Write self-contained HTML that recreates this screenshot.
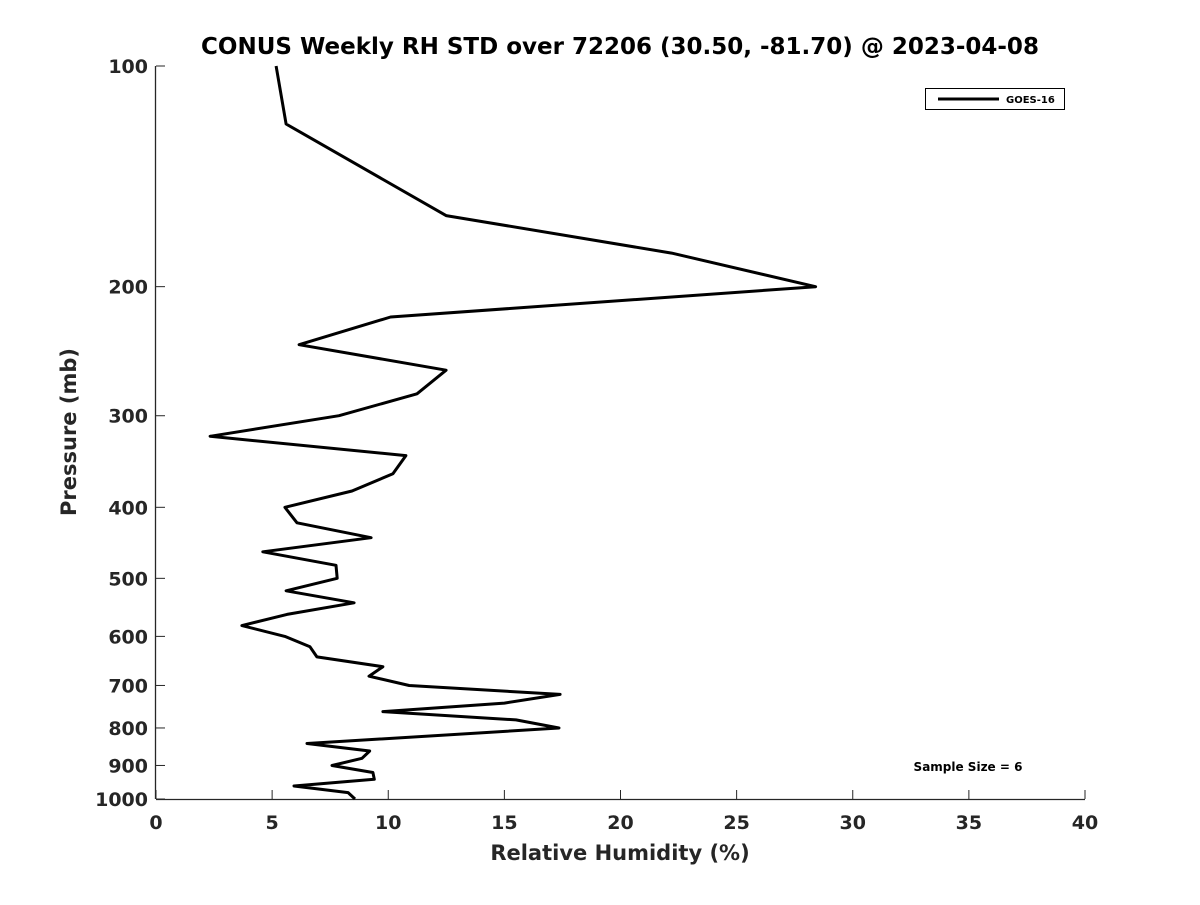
<!DOCTYPE html>
<html><head><meta charset="utf-8"><style>
body{margin:0;background:#fff}
svg text{font-family:"DejaVu Sans","Liberation Sans",sans-serif;font-weight:bold}
</style></head><body>
<svg id="chart" width="1200" height="900" xmlns="http://www.w3.org/2000/svg">
<rect width="1200" height="900" fill="#fff"/>
<text x="620" y="54" font-size="23" text-anchor="middle" fill="#000">CONUS Weekly RH STD over 72206 (30.50, -81.70) @ 2023-04-08</text>
<g id="axes"></g>
<path id="series" fill="none" stroke="#000" stroke-width="3" stroke-linejoin="round"/>
<g>
<rect x="925.5" y="88.5" width="139" height="21" fill="#fff" stroke="#000" stroke-width="1"/>
<line x1="938" y1="99" x2="999" y2="99" stroke="#000" stroke-width="3"/>
<text x="1006" y="103" font-size="10" fill="#000">GOES-16</text>
</g>
<text x="968" y="771" font-size="12" text-anchor="middle" fill="#000">Sample Size = 6</text>
<text x="620" y="860" font-size="21" text-anchor="middle" fill="#262626">Relative Humidity (%)</text>
<text x="0" y="0" font-size="21" text-anchor="middle" fill="#262626" transform="translate(76,432) rotate(-90)">Pressure (mb)</text>
</svg>
<script>
const rhValues=[5.17,5.6,12.49,22.2,28.4,10.1,6.16,12.49,11.24,7.88,2.33,10.76,10.2,8.44,5.55,6.07,9.26,4.6,7.75,7.8,5.6,8.53,5.64,3.7,5.55,6.63,6.93,9.77,9.17,10.9,17.4,15.0,9.77,15.5,17.35,6.5,9.2,8.87,7.58,9.34,9.4,5.94,8.27,8.57];
const pressures=[100,120,160,180,200,220,240,260,280,300,320,340,360,380,400,420,440,460,480,500,520,540,560,580,600,620,640,660,680,700,720,740,760,780,800,840,860,880,900,920,940,960,980,1000];
const xTicks=[0,5,10,15,20,25,30,35,40];
const yTicks=[100,200,300,400,500,600,700,800,900,1000];
const L=156,R=1085,T=66,B=799,xMin=0,xMax=40,pMin=100,pMax=1000;
const xs=v=>L+(v-xMin)/(xMax-xMin)*(R-L);
const ys=p=>T+Math.log10(p/pMin)/Math.log10(pMax/pMin)*(B-T);
const NS="http://www.w3.org/2000/svg";
const ax=document.getElementById('axes');
function mk(tag,attrs,parent){const e=document.createElementNS(NS,tag);for(const k in attrs)e.setAttribute(k,attrs[k]);parent.appendChild(e);return e;}
const xl=mk('line',{x1:L,y1:B+0.5,x2:R,y2:B+0.5,stroke:'#262626','stroke-width':1.3},ax);


const yl=mk('line',{x1:L-0.5,y1:T,x2:L-0.5,y2:B,stroke:'#262626','stroke-width':1.3},ax);


xTicks.forEach(t=>{const x=xs(t);
 const tk=mk('line',{x1:x,y1:B,x2:x,y2:B-9,stroke:'#262626','stroke-width':1},ax);
 
 
 const tx=mk('text',{x:x,y:B+30,'font-size':19,'text-anchor':'middle',fill:'#262626'},ax);tx.textContent=t;
 
 
});
yTicks.forEach(t=>{const y=ys(t);
 const tk=mk('line',{x1:L,y1:y,x2:L+9,y2:y,stroke:'#262626','stroke-width':1},ax);
 
 
 const tx=mk('text',{x:L-8,y:y+7,'font-size':19,'text-anchor':'end',fill:'#262626'},ax);tx.textContent=t;
 
 
});
document.getElementById('series').setAttribute('d',rhValues.map((v,i)=>(i?'L':'M')+xs(v).toFixed(1)+' '+ys(pressures[i]).toFixed(1)).join(' '));
</script>
</body></html>
